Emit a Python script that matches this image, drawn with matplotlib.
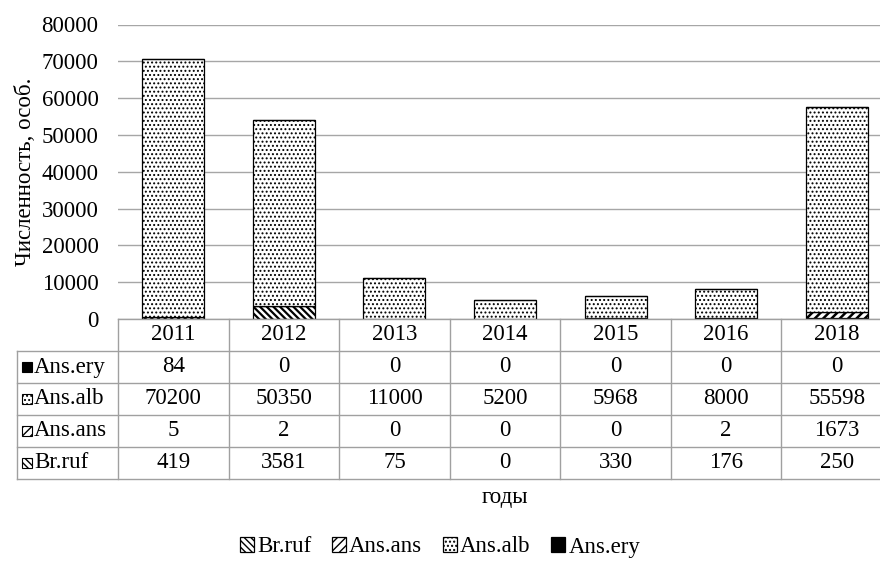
import matplotlib
matplotlib.use('Agg')
import matplotlib.pyplot as plt
from matplotlib.patches import Rectangle
from matplotlib.lines import Line2D
import numpy as np

plt.rcParams['font.family'] = ['Liberation Serif', 'DejaVu Serif']

# data
years = ['2011', '2012', '2013', '2014', '2015', '2016', '2018']
br_ruf = [419, 3581, 75, 0, 330, 176, 250]
ans_ans = [5, 2, 0, 0, 0, 2, 1673]
ans_alb = [70200, 50350, 11000, 5200, 5968, 8000, 55598]
ans_ery = [84, 0, 0, 0, 0, 0, 0]
names = ['Br.ruf', 'Ans.ans', 'Ans.alb', 'Ans.ery']

series = [br_ruf, ans_ans, ans_alb, ans_ery]
styles = [
    dict(facecolor='white', hatch='\\\\\\\\\\'),
    dict(facecolor='white', hatch='////'),
    dict(facecolor='white', hatch='....'),
    dict(facecolor='black', hatch=None),
]
hatch_lw = [1.6, 1.8, 0.9, 1.0]

FS = 16.5
W, H = 880, 562
def fx(px):
    return px / W
def fy(py):
    return 1 - py / H

def set_hlw(artist, lw):
    if hasattr(artist, 'set_hatch_linewidth'):
        artist.set_hatch_linewidth(lw)

fig = plt.figure(figsize=(W / 100, H / 100), dpi=100)
# plot area runs past the right edge like the cropped original
ax = fig.add_axes([fx(118), fy(319), (892 - 118) / W, (319 - 24.5) / H])

x = np.arange(len(years))
bottom = np.zeros(len(years))
handles = []
for vals, st, hl in zip(series, styles, hatch_lw):
    with plt.rc_context({'hatch.linewidth': hl}):
        b = ax.bar(x, vals, 0.56, bottom=bottom, edgecolor='black', linewidth=0.9,
                   zorder=3, **st)
    for p in b:
        set_hlw(p, hl)
    handles.append(b)
    bottom += np.array(vals)

ax.set_xlim(-0.5, len(years) - 0.5)
ax.set_ylim(0, 80000)
ax.set_yticks(np.arange(0, 80001, 10000))
ax.tick_params(axis='y', length=0, pad=14, labelsize=FS)
ax.set_xticks([])
ax.grid(axis='y', color='#a6a6a6', linewidth=1.0, zorder=0)
for s in ax.spines.values():
    s.set_visible(False)
ax.set_ylabel('Численность, особ.', fontsize=FS, labelpad=4)

# data table under the plot
line_c = '#a0a0a0'
left, col0 = 17, 118
col_w = (892 - 118) / len(years)
row_y = [319, 351, 383, 415, 447, 479]
fig.add_artist(Line2D([fx(col0), fx(892)], [fy(319), fy(319)], color=line_c, lw=1))
for yy in row_y[1:]:
    fig.add_artist(Line2D([fx(left), fx(892)], [fy(yy), fy(yy)], color=line_c, lw=1))
fig.add_artist(Line2D([fx(left), fx(left)], [fy(351), fy(479)], color=line_c, lw=1))
for i in range(len(years) + 1):
    xx = col0 + i * col_w
    fig.add_artist(Line2D([fx(xx), fx(xx)], [fy(319), fy(479)], color=line_c, lw=1))

for i, yr in enumerate(years):
    fig.text(fx(col0 + (i + 0.5) * col_w), fy(334), yr, ha='center', va='center', fontsize=FS)

table_rows = list(zip(names, series, styles, hatch_lw))[::-1]
for r, (nm, vals, st, hl) in enumerate(table_rows):
    cy = (row_y[r + 1] + row_y[r + 2]) / 2
    with plt.rc_context({'hatch.linewidth': min(hl, 1.0)}):
        sq = Rectangle((fx(22), fy(cy + 5)), 10 / W, 10 / H, transform=fig.transFigure,
                       edgecolor='black', linewidth=0.8, **st)
    set_hlw(sq, min(hl, 1.0))
    fig.add_artist(sq)
    fig.text(fx(34), fy(cy), nm, ha='left', va='center', fontsize=FS)
    for i, v in enumerate(vals):
        fig.text(fx(col0 + (i + 0.5) * col_w), fy(cy), str(v), ha='center', va='center', fontsize=FS)

fig.text(fx(505), fy(497), 'годы', ha='center', va='center', fontsize=FS)

with plt.rc_context({'hatch.linewidth': 1.0}):
    fig.legend(handles, names, loc='center', bbox_to_anchor=(0.5, fy(547)), ncol=4,
               frameon=False, fontsize=FS, handlelength=0.6, handleheight=0.6,
               handletextpad=0.15, columnspacing=0.9)

fig.savefig('out.png', dpi=100)
